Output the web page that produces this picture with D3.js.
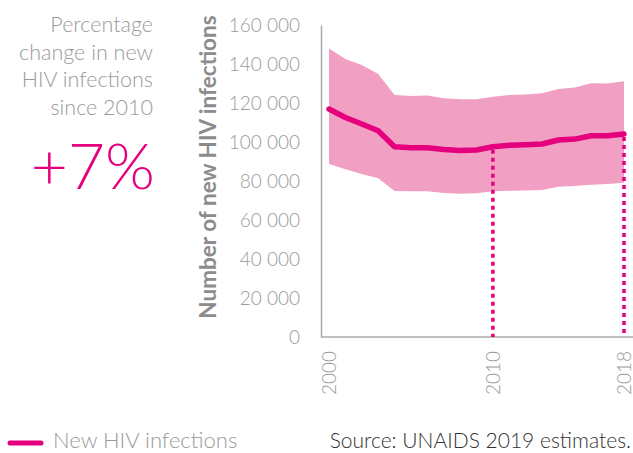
<!DOCTYPE html>
<html><head><meta charset="utf-8">
<script src="https://cdn.jsdelivr.net/npm/d3@7"></script>
<style>
html,body{margin:0;padding:0;background:#fff;}
svg{display:block;font-family:Lato,"Open Sans",sans-serif;}
</style></head>
<body><svg id="c" width="633" height="453"></svg>
<script>
const years = [2000,2001,2002,2003,2004,2005,2006,2007,2008,2009,2010,2011,2012,2013,2014,2015,2016,2017,2018];
const estimate = [116900,112600,109200,105800,97600,97100,97100,96200,95700,95900,97600,98300,98600,99000,101000,101500,103200,103200,104100];
const upper = [148000,142600,139500,134900,124100,123600,123800,122400,121900,121900,123200,124100,124400,125000,127200,128000,130100,130000,131100];
const lower = [88700,86000,83600,81400,74900,74700,74700,73800,73500,73700,74700,75000,75100,75400,77100,77400,78100,78500,79100];
const yTicks = [0,20000,40000,60000,80000,100000,120000,140000,160000];
const xTicks = [2000,2010,2018];
const markYears = [2010,2018];
const introLines = ["Percentage","change in new","HIV infections","since 2010"];
const changeLabel = "+7%";
const yTitle = "Number of new HIV infections";
const legendLabel = "New HIV infections";
const sourceLabel = "Source: UNAIDS 2019 estimates.";

const MAG = "#e5007d", BAND = "#f19fc3", GREY = "#9a9a9a";
const svg = d3.select("#c");
const x = d3.scaleLinear().domain([2000,2018]).range([329,624]);
const y = d3.scaleLinear().domain([0,160000]).range([337,25]);
const data = years.map((yr,i)=>({yr, v:estimate[i], hi:upper[i], lo:lower[i]}));

// band
svg.append("path").datum(data)
  .attr("d", d3.area().x(d=>x(d.yr)).y0(d=>y(d.lo)).y1(d=>y(d.hi)))
  .attr("fill", BAND);

// axes
const fmt = v => v===0 ? "0" : d3.format(",")(v).replace(/,/g," ");
const ya = svg.append("g").attr("transform","translate(321,0)")
  .call(d3.axisLeft(y).tickValues(yTicks).tickSize(0).tickPadding(21).tickFormat(fmt));
ya.select(".domain").attr("stroke","#aaa").attr("stroke-width",1.5);
ya.selectAll("text").attr("fill",GREY).attr("font-size",19).attr("font-weight",300)
  .attr("font-family","Lato,sans-serif");

const xa = svg.append("g").attr("transform","translate(0,337)")
  .call(d3.axisBottom(x).tickValues(xTicks).tickSize(0).tickFormat(d3.format("d")));
xa.select(".domain").attr("d","M321,0H633").attr("stroke","#aaa").attr("stroke-width",1.5);
xa.selectAll("text").attr("fill",GREY).attr("font-size",19).attr("font-weight",300)
  .attr("font-family","Lato,sans-serif")
  .attr("transform","rotate(-90)").attr("text-anchor","end")
  .attr("x",-14).attr("y",0).attr("dy","0.35em");

// dotted markers
markYears.forEach(yr=>{
  const i = years.indexOf(yr);
  svg.append("line").attr("x1",x(yr)).attr("x2",x(yr))
    .attr("y1",y(estimate[i])+3).attr("y2",y(0))
    .attr("stroke",MAG).attr("stroke-width",3.5).attr("stroke-dasharray","4 4");
});

// line
svg.append("path").datum(data)
  .attr("d", d3.line().x(d=>x(d.yr)).y(d=>y(d.v)))
  .attr("fill","none").attr("stroke",MAG).attr("stroke-width",5.5)
  .attr("stroke-linecap","round").attr("stroke-linejoin","round");

// y title
svg.append("text").attr("transform","translate(215.5,167) rotate(-90)")
  .attr("text-anchor","middle").attr("fill","#8c8c8c").attr("font-weight",700)
  .attr("font-size",22.5).text(yTitle);

// left intro
introLines.forEach((t,i)=>{
  svg.append("text").attr("x",153).attr("y",32+i*27.5).attr("text-anchor","end")
    .attr("fill",GREY).attr("font-size",21.5).attr("font-weight",300).text(t);
});
svg.append("text").attr("x",155).attr("y",189).attr("text-anchor","end")
  .attr("fill",MAG).attr("font-size",64).attr("font-weight",300).text(changeLabel);

// legend
svg.append("line").attr("x1",10).attr("x2",41).attr("y1",443).attr("y2",443)
  .attr("stroke",MAG).attr("stroke-width",5).attr("stroke-linecap","round");
svg.append("text").attr("x",53).attr("y",448).attr("fill",GREY).attr("font-size",22)
  .attr("font-weight",300).text(legendLabel);
svg.append("text").attr("x",631).attr("y",448).attr("text-anchor","end").attr("fill","#333")
  .attr("font-size",21).attr("font-weight",300).text(sourceLabel);
</script></body></html>
